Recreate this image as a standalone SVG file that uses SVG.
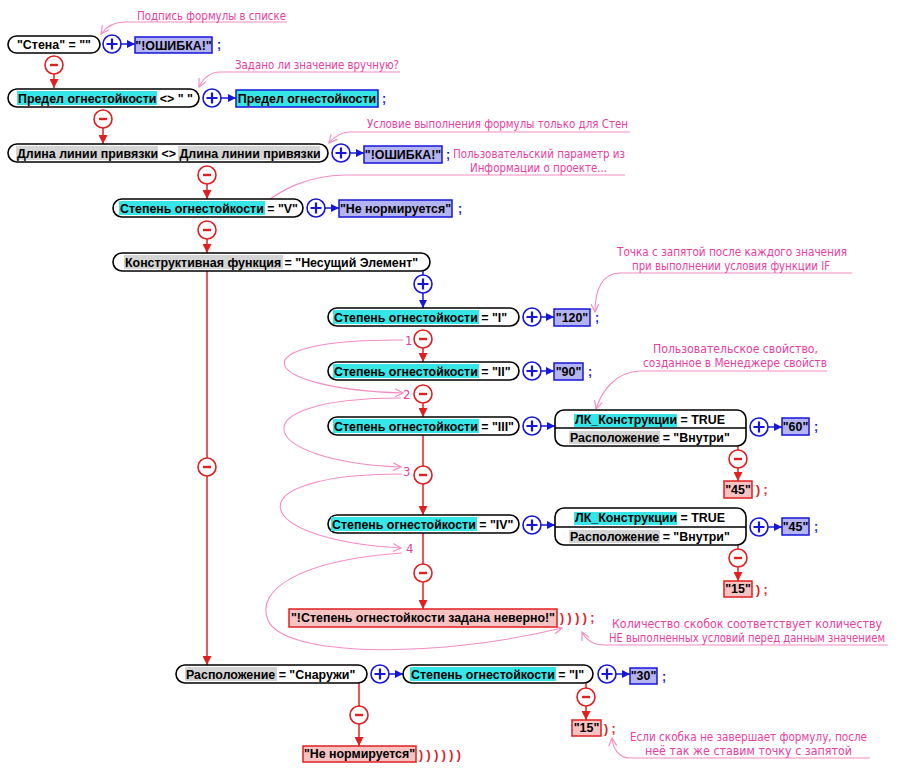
<svg xmlns="http://www.w3.org/2000/svg" xmlns:xlink="http://www.w3.org/1999/xlink" width="900" height="768" viewBox="0 0 900 768">
<style>
.pill{fill:#fff;stroke:#000;stroke-width:1.6}
.t{font-family:"Liberation Sans",Arial,sans-serif;font-weight:bold;font-size:12.4px;fill:#000}
.hc{fill:#36e6e6}
.hg{fill:#d4d4d4}
.vb{fill:#b4b4f0;stroke:#1616d8;stroke-width:1.5}
.vc{fill:#36e6e6;stroke:#1616d8;stroke-width:1.5}
.vr{fill:#f6c2c2;stroke:#e02020;stroke-width:1.5}
.sb{font-family:"Liberation Sans",Arial,sans-serif;font-weight:bold;font-size:12.4px;fill:#1616d8}
.sr{font-family:"Liberation Sans",Arial,sans-serif;font-weight:bold;font-size:12.4px;fill:#e02020}
.cb{stroke:#1616d8;stroke-width:1.5;fill:none}
.cr{stroke:#e02020;stroke-width:1.5;fill:none}
.cp{stroke:#f48cc4;stroke-width:1.1;fill:none}
.a{font-family:"DejaVu Sans Condensed","DejaVu Sans",sans-serif;font-size:13px;fill:#e8409e}
</style>
<defs>
<marker id="ab" viewBox="0 0 10 10" refX="10" refY="5" markerWidth="8" markerHeight="8" markerUnits="userSpaceOnUse" orient="auto"><path d="M0,0L10,5L0,10z" fill="#1616d8"/></marker>
<marker id="ar" viewBox="0 0 10 10" refX="10" refY="5" markerWidth="9" markerHeight="9" markerUnits="userSpaceOnUse" orient="auto"><path d="M0,0L10,5L0,10z" fill="#e02020"/></marker>
<marker id="ap" viewBox="0 0 10 10" refX="9" refY="5" markerWidth="10" markerHeight="10" markerUnits="userSpaceOnUse" orient="auto"><path d="M1,1L9,5L1,9" fill="none" stroke="#f48cc4" stroke-width="1.2"/></marker>
<g id="plus"><circle r="9" fill="#fff" stroke="#1616d8" stroke-width="1.6"/><path d="M-5.5,0H5.5M0,-5.5V5.5" stroke="#1616d8" stroke-width="2.2"/></g>
<g id="minus"><circle r="9" fill="#fff" stroke="#e02020" stroke-width="1.6"/><path d="M-4,0H4" stroke="#e02020" stroke-width="2.4"/></g>
</defs>
<rect width="900" height="768" fill="#fff"/>

<g id="connectors">
<path class="cb" d="M121,44H135" marker-end="url(#ab)"/>
<path class="cb" d="M221,98H236" marker-end="url(#ab)"/>
<path class="cb" d="M350,153H364" marker-end="url(#ab)"/>
<path class="cb" d="M325,208H339" marker-end="url(#ab)"/>
<path class="cb" d="M423,271V308" marker-end="url(#ab)"/>
<path class="cb" d="M541,317H554" marker-end="url(#ab)"/>
<path class="cb" d="M541,371H554" marker-end="url(#ab)"/>
<path class="cb" d="M541,426H555" marker-end="url(#ab)"/>
<path class="cb" d="M768,427H782" marker-end="url(#ab)"/>
<path class="cb" d="M541,525H555" marker-end="url(#ab)"/>
<path class="cb" d="M768,527H782" marker-end="url(#ab)"/>
<path class="cb" d="M389,674H403" marker-end="url(#ab)"/>
<path class="cb" d="M616,674H630" marker-end="url(#ab)"/>
<path class="cr" d="M54,74V88" marker-end="url(#ar)"/>
<path class="cr" d="M103,128V144" marker-end="url(#ar)"/>
<path class="cr" d="M207,184V199" marker-end="url(#ar)"/>
<path class="cr" d="M207,239V253" marker-end="url(#ar)"/>
<path class="cr" d="M207,271V665" marker-end="url(#ar)"/>
<path class="cr" d="M423,348V362" marker-end="url(#ar)"/>
<path class="cr" d="M423,403V417" marker-end="url(#ar)"/>
<path class="cr" d="M423,435V515" marker-end="url(#ar)"/>
<path class="cr" d="M423,533V609" marker-end="url(#ar)"/>
<path class="cr" d="M738,446V481" marker-end="url(#ar)"/>
<path class="cr" d="M738,545V581" marker-end="url(#ar)"/>
<path class="cr" d="M586,683V720" marker-end="url(#ar)"/>
<path class="cr" d="M359,683V746" marker-end="url(#ar)"/>
<path class="cp" d="M287,22H125C113,22 106,27 101,34" marker-end="url(#ap)"/>
<path class="cp" d="M400,72H220C209,72 203,79 199,87" marker-end="url(#ap)"/>
<path class="cp" d="M630,132H350C340,132 334,137 329,143" marker-end="url(#ap)"/>
<path class="cp" d="M625,175H345C305,176 282,190 263,204"/>
<path class="cp" d="M852,273H620C602,273 595,290 595,312" marker-end="url(#ap)"/>
<path class="cp" d="M827,371H640C616,372 602,390 596,409" marker-end="url(#ap)"/>
<path class="cp" d="M888,645H605C593,645 586,640 582,632" marker-end="url(#ap)"/>
<path class="cp" d="M870,758H630C619,758 613,749 612,738" marker-end="url(#ap)"/>
<path class="cp" d="M403,340C232,339 258,389 403,393" marker-end="url(#ap)"/>
<path class="cp" d="M401,398C235,398 255,461 401,467" marker-end="url(#ap)"/>
<path class="cp" d="M402,474C230,474 250,540 401,548" marker-end="url(#ap)"/>
<path class="cp" d="M402,553C300,560 255,590 268,620C282,656 430,660 562,628" marker-end="url(#ap)"/>
<use xlink:href="#plus" x="112" y="44"/>
<use xlink:href="#plus" x="212" y="98"/>
<use xlink:href="#plus" x="341" y="153"/>
<use xlink:href="#plus" x="316" y="208"/>
<use xlink:href="#plus" x="423" y="284"/>
<use xlink:href="#plus" x="532" y="317"/>
<use xlink:href="#plus" x="532" y="371"/>
<use xlink:href="#plus" x="532" y="426"/>
<use xlink:href="#plus" x="759" y="427"/>
<use xlink:href="#plus" x="532" y="525"/>
<use xlink:href="#plus" x="759" y="527"/>
<use xlink:href="#plus" x="380" y="674"/>
<use xlink:href="#plus" x="607" y="674"/>
<use xlink:href="#minus" x="54" y="65"/>
<use xlink:href="#minus" x="103" y="119"/>
<use xlink:href="#minus" x="207" y="175"/>
<use xlink:href="#minus" x="207" y="230"/>
<use xlink:href="#minus" x="207" y="467"/>
<use xlink:href="#minus" x="423" y="339"/>
<use xlink:href="#minus" x="423" y="394"/>
<use xlink:href="#minus" x="423" y="475"/>
<use xlink:href="#minus" x="423" y="573"/>
<use xlink:href="#minus" x="738" y="459"/>
<use xlink:href="#minus" x="738" y="558"/>
<use xlink:href="#minus" x="586" y="697"/>
<use xlink:href="#minus" x="359" y="715"/>
<text class="a" x="405" y="345">1</text>
<text class="a" x="403" y="399">2</text>
<text class="a" x="403" y="476">3</text>
<text class="a" x="406" y="553">4</text>
</g>

<g id="n1">
<rect class="pill" x="8" y="36" width="92" height="17" rx="8.5"/>
<text class="t" x="17" y="49">"Стена" = ""</text>
</g>
<g id="v1">
<rect class="vb" x="135" y="37" width="77" height="16"/>
<text class="t" x="173.5" y="49.5" text-anchor="middle">"!ОШИБКА!"</text>
<text class="sb" x="217" y="49">;</text>
</g>

<g id="n2">
<rect class="pill" x="8" y="89" width="191" height="18" rx="9"/>
<rect class="hc" x="17" y="91" width="140" height="14"/>
<text class="t" x="18" y="102.5">Предел огнестойкости &lt;&gt; " "</text>
</g>
<g id="v2">
<rect class="vc" x="236" y="90" width="142" height="17"/>
<text class="t" x="307" y="102.5" text-anchor="middle">Предел огнестойкости</text>
<text class="sb" x="382" y="103">;</text>
</g>

<g id="n3">
<rect class="pill" x="8" y="144" width="320" height="18" rx="9"/>
<rect class="hg" x="16" y="146" width="142" height="14"/>
<rect class="hg" x="178" y="146" width="142" height="14"/>
<text class="t" x="17" y="157.5">Длина линии привязки &lt;&gt; Длина линии привязки</text>
</g>
<g id="v3">
<rect class="vb" x="364" y="146" width="78" height="17"/>
<text class="t" x="403" y="158.5" text-anchor="middle">"!ОШИБКА!"</text>
<text class="sb" x="446" y="159">;</text>
</g>

<g id="n4">
<rect class="pill" x="113" y="199" width="190" height="18" rx="9"/>
<rect class="hc" x="119" y="201" width="146" height="14"/>
<text class="t" x="120" y="212.5">Степень огнестойкости = "V"</text>
</g>
<g id="v4">
<rect class="vb" x="339" y="200" width="113" height="17"/>
<text class="t" x="395.5" y="212.5" text-anchor="middle">"Не нормируется"</text>
<text class="sb" x="458" y="213">;</text>
</g>

<g id="n5">
<rect class="pill" x="113" y="253" width="317" height="18" rx="9"/>
<rect class="hg" x="124" y="255" width="159" height="14"/>
<text class="t" x="125" y="266.5">Конструктивная функция = "Несущий Элемент"</text>
</g>

<g id="n6">
<rect class="pill" x="328" y="308" width="191" height="18" rx="9"/>
<rect class="hc" x="333" y="310" width="146" height="14"/>
<text class="t" x="334" y="321.5">Степень огнестойкости = "I"</text>
</g>
<g id="v6">
<rect class="vb" x="554" y="309" width="36" height="17"/>
<text class="t" x="572" y="321.5" text-anchor="middle">"120"</text>
<text class="sb" x="595" y="322">;</text>
</g>

<g id="n7">
<rect class="pill" x="328" y="362" width="191" height="18" rx="9"/>
<rect class="hc" x="333" y="364" width="146" height="14"/>
<text class="t" x="334" y="375.5">Степень огнестойкости = "II"</text>
</g>
<g id="v7">
<rect class="vb" x="554" y="363" width="29" height="17"/>
<text class="t" x="568.5" y="375.5" text-anchor="middle">"90"</text>
<text class="sb" x="588" y="376">;</text>
</g>

<g id="n8">
<rect class="pill" x="328" y="417" width="191" height="18" rx="9"/>
<rect class="hc" x="333" y="419" width="146" height="14"/>
<text class="t" x="334" y="430.5">Степень огнестойкости = "III"</text>
</g>
<g id="n8b">
<rect class="pill" x="555" y="410" width="191" height="36" rx="9"/>
<path d="M555,428H746" stroke="#000" stroke-width="1.4"/>
<rect class="hc" x="574" y="414" width="103" height="13"/>
<rect class="hg" x="569" y="431" width="91" height="13"/>
<text class="t" x="575" y="423.5">ЛК_Конструкции = TRUE</text>
<text class="t" x="570" y="441.5">Расположение = "Внутри"</text>
</g>
<g id="v8">
<rect class="vb" x="782" y="418" width="27" height="17"/>
<text class="t" x="795.5" y="430.5" text-anchor="middle">"60"</text>
<text class="sb" x="814" y="431">;</text>
</g>
<g id="v8r">
<rect class="vr" x="724" y="481" width="28" height="17"/>
<text class="t" x="738" y="493.5" text-anchor="middle">"45"</text>
<text class="sr" x="756" y="494">) ;</text>
</g>

<g id="n9">
<rect class="pill" x="328" y="515" width="191" height="18" rx="9"/>
<rect class="hc" x="331" y="517" width="146" height="14"/>
<text class="t" x="332" y="528.5">Степень огнестойкости = "IV"</text>
</g>
<g id="n9b">
<rect class="pill" x="555" y="508" width="191" height="37" rx="9"/>
<path d="M555,527H746" stroke="#000" stroke-width="1.4"/>
<rect class="hc" x="574" y="512" width="103" height="13"/>
<rect class="hg" x="569" y="530" width="91" height="13"/>
<text class="t" x="575" y="522">ЛК_Конструкции = TRUE</text>
<text class="t" x="570" y="540.5">Расположение = "Внутри"</text>
</g>
<g id="v9">
<rect class="vb" x="782" y="518" width="27" height="17"/>
<text class="t" x="795.5" y="530.5" text-anchor="middle">"45"</text>
<text class="sb" x="814" y="531">;</text>
</g>
<g id="v9r">
<rect class="vr" x="724" y="581" width="28" height="16"/>
<text class="t" x="738" y="593" text-anchor="middle">"15"</text>
<text class="sr" x="756" y="593.5">) ;</text>
</g>

<g id="verr">
<rect class="vr" x="289" y="609" width="268" height="18"/>
<text class="t" x="423" y="622" text-anchor="middle">"!Степень огнестойкости задана неверно!"</text>
<text class="sr" x="560" y="622">) ) ) ) ;</text>
</g>

<g id="n10">
<rect class="pill" x="176" y="665" width="191" height="18" rx="9"/>
<rect class="hg" x="185" y="667" width="92" height="14"/>
<text class="t" x="186" y="678.5">Расположение = "Снаружи"</text>
</g>
<g id="n11">
<rect class="pill" x="403" y="665" width="190" height="18" rx="9"/>
<rect class="hc" x="410" y="667" width="146" height="14"/>
<text class="t" x="411" y="678.5">Степень огнестойкости = "I"</text>
</g>
<g id="v11">
<rect class="vb" x="630" y="668" width="27" height="16"/>
<text class="t" x="643.5" y="680" text-anchor="middle">"30"</text>
<text class="sb" x="662" y="680.5">;</text>
</g>
<g id="v11r">
<rect class="vr" x="572" y="720" width="29" height="16"/>
<text class="t" x="586.5" y="732" text-anchor="middle">"15"</text>
<text class="sr" x="604" y="732.5">) ;</text>
</g>
<g id="v10r">
<rect class="vr" x="303" y="746" width="113" height="16"/>
<text class="t" x="359.5" y="758" text-anchor="middle">"Не нормируется"</text>
<text class="sr" x="419" y="758.5">) ) ) ) ) )</text>
</g>

<g id="annotations">
<text class="a" x="137" y="20" textLength="149" lengthAdjust="spacingAndGlyphs">Подпись формулы в списке</text>
<text class="a" x="235" y="69" textLength="164" lengthAdjust="spacingAndGlyphs">Задано ли значение вручную?</text>
<text class="a" x="367" y="128" textLength="261" lengthAdjust="spacingAndGlyphs">Условие выполнения формулы только для Стен</text>
<text class="a" x="453" y="158" textLength="172" lengthAdjust="spacingAndGlyphs">Пользовательский параметр из</text>
<text class="a" x="470" y="172" textLength="137" lengthAdjust="spacingAndGlyphs">Информации о проекте...</text>
<text class="a" x="617" y="256" textLength="230" lengthAdjust="spacingAndGlyphs">Точка с запятой после каждого значения</text>
<text class="a" x="632" y="270" textLength="198" lengthAdjust="spacingAndGlyphs">при выполнении условия функции IF</text>
<text class="a" x="653" y="353" textLength="165" lengthAdjust="spacingAndGlyphs">Пользовательское свойство,</text>
<text class="a" x="643" y="367" textLength="184" lengthAdjust="spacingAndGlyphs">созданное в Менеджере свойств</text>
<text class="a" x="612" y="628" textLength="270" lengthAdjust="spacingAndGlyphs">Количество скобок соответствует количеству</text>
<text class="a" x="609" y="642" font-size="12" textLength="276" lengthAdjust="spacingAndGlyphs">НЕ выполненных условий перед данным значением</text>
<text class="a" x="630" y="741" textLength="237" lengthAdjust="spacingAndGlyphs">Если скобка не завершает формулу, после</text>
<text class="a" x="645" y="755" textLength="207" lengthAdjust="spacingAndGlyphs">неё так же ставим точку с запятой</text>
</g>
</svg>
